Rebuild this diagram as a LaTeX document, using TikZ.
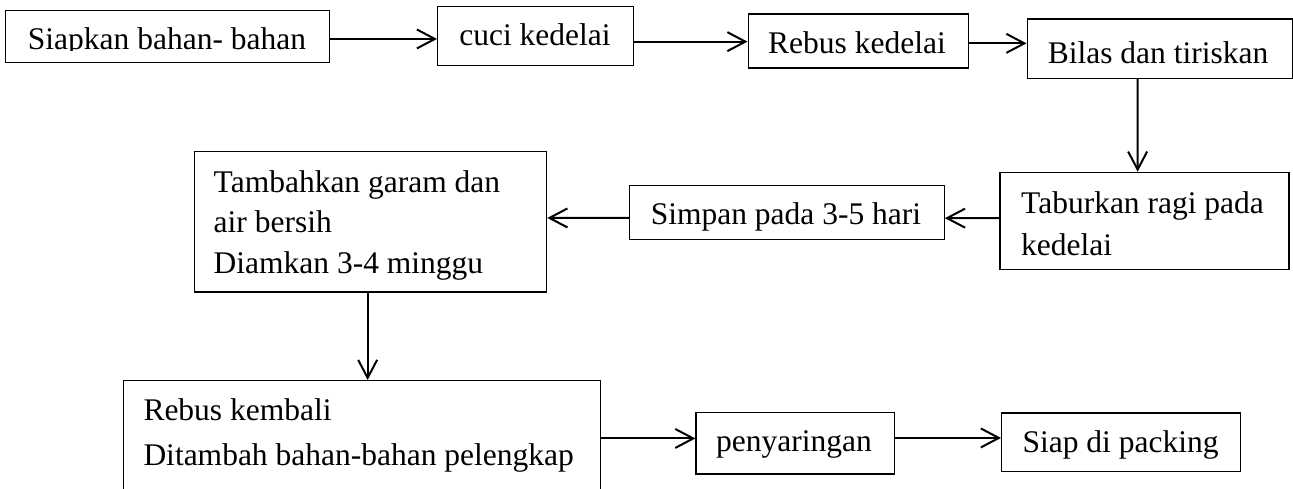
\documentclass[tikz,border=0pt]{standalone}
\usepackage{fontspec}
\setmainfont{Liberation Serif}
\usetikzlibrary{arrows.meta}
\begin{document}
\begin{tikzpicture}[x=1pt,y=-1pt,
  box/.style={draw, line width=1.3pt, rectangle, inner sep=0pt, anchor=north west},
  txt/.style={inner sep=0pt, font=\fontsize{31.5}{42}\selectfont},
  arr/.style={line width=2pt, -{Straight Barb[length=18pt,width=19pt,line width=2pt]}}
]
\clip (0,0) rectangle (1293,489);
% boxes
\node[box, minimum width=324pt, minimum height=52pt] (b1) at (5,10) {};
\node[box, minimum width=196pt, minimum height=59pt] (b2) at (437,6) {};
\node[box, minimum width=220.5pt, minimum height=54pt] (b3) at (747.5,13.3) {};
\node[box, minimum width=265pt, minimum height=59.4pt] (b4) at (1026.5,18.3) {};
\node[box, minimum width=289pt, minimum height=97.3pt] (b5) at (999.4,171.7) {};
\node[box, minimum width=314.6pt, minimum height=54pt] (b6) at (629,185) {};
\node[box, minimum width=352pt, minimum height=140.3pt] (b7) at (194,151) {};
\node[box, minimum width=477pt, minimum height=160pt] (b8) at (123,380) {};
\node[box, minimum width=198.2pt, minimum height=61.6pt] (b9) at (695.4,411.7) {};
\node[box, minimum width=239pt, minimum height=58.4pt] (b10) at (1001,412.3) {};
% texts
\begin{scope}
\clip (5,10) rectangle (329,50.5);
\node[txt, anchor=base] (t1) at (167,49.3) {Siapkan bahan- bahan};
\end{scope}
\node[txt, anchor=base] (t2) at (535,46) {cuci kedelai};
\node[txt, anchor=base] (t3) at (857,53.3) {Rebus kedelai};
\node[txt, anchor=base] (t4) at (1158,64) {Bilas dan tiriskan};
\node[txt, anchor=base west] (t5a) at (1021,213.5) {Taburkan ragi pada};
\node[txt, anchor=base west] (t5b) at (1021,255) {kedelai};
\node[txt, anchor=base] (t6) at (786,224.5) {Simpan pada 3-5 hari};
\node[txt, anchor=base west] (t7a) at (213.5,192.3) {Tambahkan garam dan};
\node[txt, anchor=base west] (t7b) at (213.5,232.7) {air bersih};
\node[txt, anchor=base west] (t7c) at (213.5,273.3) {Diamkan 3-4 minggu};
\node[txt, anchor=base west] (t8a) at (143.3,420) {Rebus kembali};
\node[txt, anchor=base west] (t8b) at (143.3,465) {Ditambah bahan-bahan pelengkap};
\node[txt, anchor=base] (t9) at (794,451.7) {penyaringan};
\node[txt, anchor=base] (t10) at (1120.5,452.7) {Siap di packing};
% arrows
\draw[arr] ([yshift=-2.3pt]b1.east) -- ([yshift=-2.8pt]b2.west);
\draw[arr] ([yshift=-5.5pt]b2.east) -- ([yshift=-0.7pt]b3.west);
\draw[arr] ([yshift=-2.4pt]b3.east) -- ([yshift=5.3pt]b4.west);
\draw[arr] ([xshift=-22.15pt]b4.south) -- ([xshift=-6.9pt]b5.north);
\draw[arr] ([yshift=2.85pt]b5.west) -- ([yshift=-5.5pt]b6.east);
\draw[arr] ([yshift=-5.3pt]b6.west) -- ([yshift=3.85pt]b7.east);
\draw[arr] ([xshift=-3pt]b7.south) -- ([xshift=5.5pt]b8.north);
\draw[arr] ([yshift=22.2pt]b8.east) -- ([yshift=4.7pt]b9.west);
\draw[arr] ([yshift=5.2pt]b9.east) -- ([yshift=4.2pt]b10.west);
\end{tikzpicture}
\end{document}
